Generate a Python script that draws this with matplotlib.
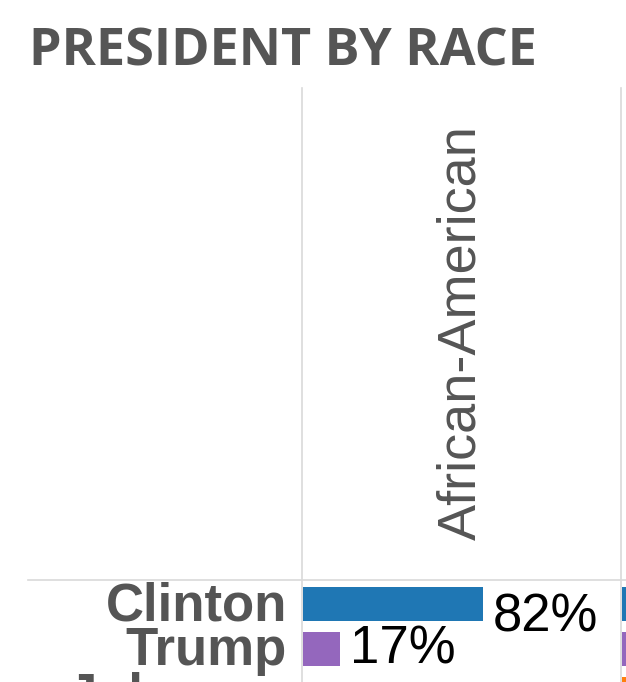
import matplotlib.pyplot as plt
from matplotlib.lines import Line2D
from matplotlib.transforms import ScaledTranslation

W, H = 626, 682

candidates = ["Clinton", "Trump", "Johnson"]
colors = ["#1f77b4", "#9467bd", "#ff7f0e"]
race = "African-American"
share = [82, 17, 0]
value_labels = ["82%", "17%", ""]  # third row falls below the crop
label_dy = [-14, -1, 0]  # px, tableau puts the labels a bit off-centre
next_share = [34, 60, 4]  # next race column, only its left edge shows

TEXT_GRAY = "#555555"
GRID = "#d9d9d9"


def px_box(x0, y0, x1, y1):
    """Axes rectangle from pixel coords (origin top-left)."""
    return [x0 / W, 1 - y1 / H, (x1 - x0) / W, (y1 - y0) / H]


fig = plt.figure(figsize=(W / 100, H / 100), dpi=100)
plt.rcParams["font.family"] = ["Liberation Sans", "DejaVu Sans"]

# rows are 45 px apart, first bar centred at y=604, axes top at y=580
row_px = 45
top_px, bot_px = 580, 715
ylim = ((bot_px - 604) / row_px, (top_px - 604) / row_px)
px_per_pct = 2.2

ax = fig.add_axes(px_box(303, top_px, 621, bot_px))
bars = ax.barh(range(len(candidates)), share, height=34 / row_px, color=colors)
anns = ax.bar_label(bars, labels=value_labels, padding=7, fontsize=38,
                    color="black")
for ann, dy in zip(anns, label_dy):
    ann.xyann = (ann.xyann[0], dy * 0.72)
ax.set_xlim(0, 318 / px_per_pct)
ax.set_ylim(*ylim)
ax.set_yticks(range(len(candidates)), candidates, fontsize=38,
              fontweight="bold", color=TEXT_GRAY)
ax.tick_params(axis="y", length=0, pad=11.5)
nudge = ScaledTranslation(0, 0.03, fig.dpi_scale_trans)
for lab in ax.get_yticklabels():
    lab.set_transform(lab.get_transform() + nudge)
ax.set_xticks([])
for s in ax.spines.values():
    s.set_visible(False)

ax2 = fig.add_axes(px_box(622, top_px, 940, bot_px))
ax2.barh(range(len(candidates)), next_share, height=34 / row_px, color=colors)
ax2.set_xlim(0, 318 / px_per_pct)
ax2.set_ylim(*ylim)
ax2.axis("off")

# header text and grid lines
fig.text(461.5 / W, 1 - 540 / H, race, rotation=90, ha="center", va="bottom",
         fontsize=39, color=TEXT_GRAY)
for x in (302, 621):
    fig.add_artist(Line2D([x / W, x / W], [1 - 88 / H, 0], color=GRID, lw=1.2))
fig.add_artist(Line2D([28 / W, 1], [1 - 580 / H, 1 - 580 / H], color=GRID, lw=1.2))

fig.text(29 / W, 1 - 66 / H, "PRESIDENT BY RACE", ha="left", va="baseline",
         fontsize=37.5, fontweight="bold", color=TEXT_GRAY, family="Open Sans")

fig.savefig("out.png", dpi=100)
